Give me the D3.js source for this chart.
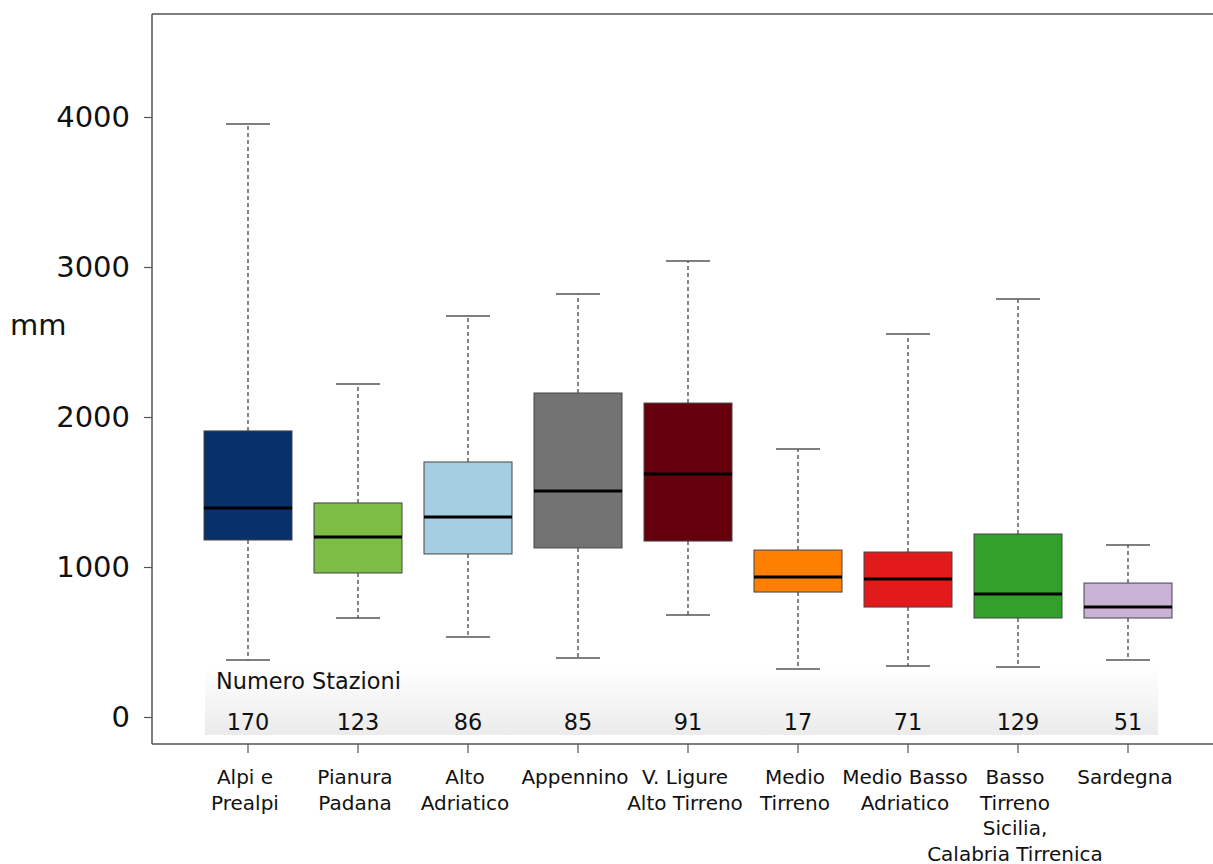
<!DOCTYPE html>
<html>
<head>
<meta charset="utf-8">
<script src="https://cdn.jsdelivr.net/npm/d3@7"></script>
<style>
  html, body { margin: 0; padding: 0; background: #ffffff; }
  svg { display: block; font-family: "DejaVu Sans", sans-serif; }
</style>
</head>
<body>
<svg id="chart" width="1213" height="864"></svg>
<script>
// ---- data ----
const categories = ["Alpi e Prealpi", "Pianura Padana", "Alto Adriatico", "Appennino",
  "V. Ligure Alto Tirreno", "Medio Tirreno", "Medio Basso Adriatico",
  "Basso Tirreno Sicilia, Calabria Tirrenica", "Sardegna"];
const categoryLines = [["Alpi e", "Prealpi"], ["Pianura", "Padana"], ["Alto", "Adriatico"],
  ["Appennino"], ["V. Ligure", "Alto Tirreno"], ["Medio", "Tirreno"], ["Medio Basso", "Adriatico"],
  ["Basso", "Tirreno", "Sicilia,", "Calabria Tirrenica"], ["Sardegna"]];
const whiskerLow  = [380, 660, 533, 393, 680, 320, 340, 333, 380];
const q1          = [1180, 960, 1087, 1127, 1173, 833, 733, 660, 660];
const median      = [1393, 1200, 1333, 1507, 1620, 933, 920, 820, 733];
const q3          = [1907, 1427, 1700, 2160, 2093, 1113, 1100, 1220, 893];
const whiskerHigh = [3953, 2220, 2673, 2820, 3040, 1787, 2553, 2787, 1147];
const stations    = [170, 123, 86, 85, 91, 17, 71, 129, 51];
const colors = ["#08306b", "#7bbd45", "#a6cee3", "#737373", "#67000d", "#ff7f00", "#e31a1c", "#33a02c", "#cab2d6"];
const yTicks = [0, 1000, 2000, 3000, 4000];

// ---- layout ----
const svg = d3.select("#chart");
const frame = { left: 152, top: 14, right: 1213, bottom: 744 };

const x = d3.scaleBand().domain(categories).range([193, 1183]).paddingInner(0.2).paddingOuter(0.1);
const y = d3.scaleLinear().domain([0, 4000]).range([717, 117]);

const rows = categories.map((c, i) => ({
  cat: c, lines: categoryLines[i], lo: whiskerLow[i], q1: q1[i], med: median[i],
  q3: q3[i], hi: whiskerHigh[i], n: stations[i], color: colors[i]
}));

// gradient for station band
const defs = svg.append("defs");
const grad = defs.append("linearGradient").attr("id", "bandGrad")
  .attr("x1", 0).attr("y1", 0).attr("x2", 0).attr("y2", 1);
grad.append("stop").attr("offset", "0%").attr("stop-color", "#ffffff");
grad.append("stop").attr("offset", "100%").attr("stop-color", "#ebebeb");

// station band
const bandLeft = x(categories[0]) + 1;
const bandRight = x(categories[categories.length - 1]) + x.bandwidth() - 14;
svg.append("rect")
  .attr("x", bandLeft).attr("y", 667)
  .attr("width", bandRight - bandLeft).attr("height", 68)
  .attr("fill", "url(#bandGrad)");

svg.append("text").attr("x", 216).attr("y", 689)
  .attr("font-size", 22.4).attr("fill", "#111").text("Numero Stazioni");

svg.append("g").selectAll("text").data(rows).join("text")
  .attr("x", d => x(d.cat) + x.bandwidth() / 2)
  .attr("y", 730)
  .attr("text-anchor", "middle")
  .attr("font-size", 22.4).attr("fill", "#111")
  .text(d => d.n);

// frame lines
svg.append("line").attr("x1", frame.left).attr("x2", frame.left)
  .attr("y1", frame.top).attr("y2", frame.bottom)
  .attr("stroke", "#555").attr("stroke-width", 1.5);
svg.append("line").attr("x1", frame.left).attr("x2", frame.right)
  .attr("y1", frame.top).attr("y2", frame.top)
  .attr("stroke", "#555").attr("stroke-width", 1.5);
svg.append("line").attr("x1", frame.left).attr("x2", frame.right)
  .attr("y1", frame.bottom).attr("y2", frame.bottom)
  .attr("stroke", "#555").attr("stroke-width", 1.5);

// y axis
const yAxis = d3.axisLeft(y).tickValues(yTicks).tickSize(8).tickPadding(14).tickFormat(d3.format("d"));
const gy = svg.append("g").attr("transform", `translate(${frame.left},0)`).call(yAxis);
gy.select(".domain").remove();
gy.selectAll(".tick line").attr("stroke", "#555").attr("stroke-width", 1.2);
gy.selectAll(".tick text").attr("font-size", 29).attr("fill", "#111")
  .attr("font-family", "DejaVu Sans, sans-serif");

svg.append("text").attr("x", 10).attr("y", 335)
  .attr("font-size", 29).attr("fill", "#111").text("mm");

// x axis
const xAxis = d3.axisBottom(x).tickSize(9).tickFormat("");
const gx = svg.append("g").attr("transform", `translate(0,${frame.bottom})`).call(xAxis);
gx.select(".domain").remove();
gx.selectAll(".tick line").attr("stroke", "#555").attr("stroke-width", 1.2);

const labels = svg.append("g").selectAll("text").data(rows).join("text")
  .attr("text-anchor", "middle")
  .attr("font-size", 20).attr("fill", "#111");
labels.each(function (d) {
  const t = d3.select(this);
  d.lines.forEach((ln, j) => {
    t.append("tspan")
      .attr("x", x(d.cat) + x.bandwidth() / 2 - 3)
      .attr("y", 784 + j * 25.5)
      .text(ln);
  });
});

// boxes
const bw = x.bandwidth();
const g = svg.append("g").selectAll("g").data(rows).join("g")
  .attr("transform", d => `translate(${x(d.cat)},0)`);

// whiskers (dashed)
g.append("line").attr("x1", bw / 2).attr("x2", bw / 2)
  .attr("y1", d => y(d.q3)).attr("y2", d => y(d.hi))
  .attr("stroke", "#444").attr("stroke-width", 1.3).attr("stroke-dasharray", "4,3");
g.append("line").attr("x1", bw / 2).attr("x2", bw / 2)
  .attr("y1", d => y(d.q1)).attr("y2", d => y(d.lo))
  .attr("stroke", "#444").attr("stroke-width", 1.3).attr("stroke-dasharray", "4,3");
// caps
g.append("line").attr("x1", bw / 4).attr("x2", bw * 3 / 4)
  .attr("y1", d => y(d.hi)).attr("y2", d => y(d.hi))
  .attr("stroke", "#555").attr("stroke-width", 1.5);
g.append("line").attr("x1", bw / 4).attr("x2", bw * 3 / 4)
  .attr("y1", d => y(d.lo)).attr("y2", d => y(d.lo))
  .attr("stroke", "#555").attr("stroke-width", 1.5);
// box
g.append("rect").attr("x", 0).attr("width", bw)
  .attr("y", d => y(d.q3)).attr("height", d => y(d.q1) - y(d.q3))
  .attr("fill", d => d.color).attr("stroke", "#444").attr("stroke-width", 1);
// median
g.append("line").attr("x1", 0).attr("x2", bw)
  .attr("y1", d => y(d.med)).attr("y2", d => y(d.med))
  .attr("stroke", "#000").attr("stroke-width", 3);
</script>
</body>
</html>
